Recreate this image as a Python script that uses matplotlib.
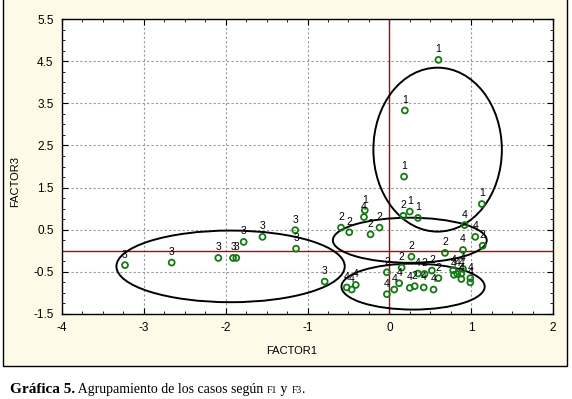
import matplotlib
matplotlib.use('Agg')
import matplotlib.pyplot as plt
from matplotlib.patches import Ellipse, Rectangle
from matplotlib.ticker import MultipleLocator

plt.rcParams['axes.unicode_minus'] = False
plt.rcParams['font.family'] = ['Liberation Sans', 'DejaVu Sans']

# --- datos (F1, F3, grupo) ---
f1 = [-3.23, -2.66, -2.09, -1.91, -1.87, -1.78, -1.55, -1.15, -1.14, -0.79,
      0.60, 0.19, 0.18, 1.13, -0.30, 0.25, 0.35,
      -0.59, -0.49, -0.23, -0.12, -0.31, 0.17, 0.92, 1.05, 1.14, 0.90, 0.68, 0.27,
      -0.52, -0.46, -0.41, -0.03, 0.15, -0.03, 0.06, 0.12, 0.25, 0.31, 0.42, 0.54,
      0.35, 0.43, 0.52, 0.60, 0.78, 0.79, 0.83, 0.88, 0.88, 0.99, 0.99, 0.90]
f3 = [-0.34, -0.28, -0.17, -0.17, -0.17, 0.21, 0.33, 0.49, 0.05, -0.73,
      4.53, 3.33, 1.76, 1.11, 0.96, 0.93, 0.78,
      0.55, 0.44, 0.39, 0.55, 0.80, 0.83, 0.61, 0.33, 0.12, 0.02, -0.05, -0.14,
      -0.87, -0.92, -0.81, -0.51, -0.40, -1.03, -0.92, -0.77, -0.88, -0.84, -0.87, -0.92,
      -0.54, -0.55, -0.47, -0.65, -0.46, -0.57, -0.55, -0.54, -0.67, -0.65, -0.75, -0.43]
grupo = ['3', '3', '3', '3', '3', '3', '3', '3', '3', '3',
         '1', '1', '1', '1', '1', '1', '1',
         '2', '2', '2', '2', '4', '2', '4', '4', '2', '4', '2', '2',
         '4', '4', '4', '2', '2', '4', '4', '4', '4', '2', '4', '4',
         '4', '2', '2', '2', '4', '4', '4', '4', '4', '4', '4', '4']

# elipses de agrupamiento: centro F1, centro F3, ancho, alto
elip_x = [0.59, 0.25, 0.29, -1.94]
elip_y = [2.40, 0.25, -0.85, -0.37]
elip_w = [1.57, 1.88, 1.75, 2.79]
elip_h = [3.89, 1.07, 1.09, 1.70]

fig = plt.figure(figsize=(5.72, 3.99), dpi=100)
fig.patch.set_facecolor('white')
# marco beige del grafico
fig.patches.append(Rectangle((3/572, 1 - 366/399), (567 - 3)/572, 366/399 + 0.05,
                             transform=fig.transFigure, facecolor='#fdfbe8',
                             edgecolor='black', lw=1.0, zorder=-1))

ax = fig.add_axes([62/572, 1 - 314/399, (553 - 62)/572, (314 - 19)/399])
ax.set_facecolor('white')
ax.set_xlim(-4, 2)
ax.set_ylim(-1.5, 5.5)
ax.xaxis.set_major_locator(MultipleLocator(1))
ax.xaxis.set_minor_locator(MultipleLocator(0.25))
ax.set_yticks([-1.5, -0.5, 0.5, 1.5, 2.5, 3.5, 4.5, 5.5])
ax.yaxis.set_minor_locator(MultipleLocator(0.25))
ax.tick_params(which='both', direction='in', top=True, right=True, labelsize=8.5)
ax.tick_params(which='major', length=4, pad=6)
ax.tick_params(which='minor', length=2)
ax.set_yticklabels(['-1.5', '-0.5', '0.5', '1.5', '2.5', '3.5', '4.5', '5.5'])
ax.grid(True, which='major', color='#9a9a9a', linestyle=(0, (2, 2)), lw=0.8)
ax.set_axisbelow(True)
for s in ax.spines.values():
    s.set_linewidth(1.0)

ax.axhline(0, color='#c00000', lw=1.0, zorder=2)
ax.axvline(0, color='#c00000', lw=1.0, zorder=2)

for cx, cy, w, h in zip(elip_x, elip_y, elip_w, elip_h):
    ax.add_patch(Ellipse((cx, cy), w, h, fill=False, edgecolor='black', lw=1.4, zorder=3))

ax.scatter(f1, f3, s=18, facecolors='none', edgecolors='#137a13', linewidths=1.3, zorder=4)
for x, y, g in zip(f1, f3, grupo):
    ax.annotate(g, (x, y), xytext=(0, 4), textcoords='offset points',
                ha='center', va='bottom', fontsize=7.5, zorder=5)

ax.set_xlabel('FACTOR1', fontsize=8)
ax.set_ylabel('FACTOR3', fontsize=8)
ax.xaxis.set_label_coords(0.468, -0.11)
ax.yaxis.set_label_coords(-0.086, 0.45)

# pie de figura con versalitas para F1 y F3
piezas = [('Gráfica 5.', 'bold', 11), (' Agrupamiento de los casos según ', 'normal', 10),
          ('F1', 'normal', 7), (' y ', 'normal', 10), ('F3', 'normal', 7), ('.', 'normal', 10)]
renderer = fig.canvas.get_renderer()
xpos = 10 / 572
for txt, peso, tam in piezas:
    t = fig.text(xpos, 1 - 393/399, txt, fontsize=tam, fontweight=peso,
                 family='Liberation Serif', ha='left', va='baseline')
    bb = t.get_window_extent(renderer=renderer)
    xpos += bb.width / 572

fig.savefig('out.png', dpi=100)
